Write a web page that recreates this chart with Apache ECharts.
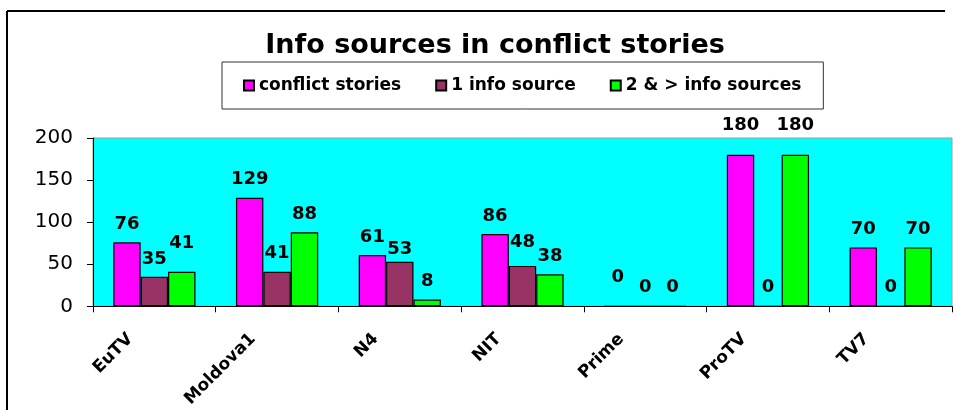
<!DOCTYPE html>
<html>
<head>
<meta charset="utf-8">
<script src="https://cdn.jsdelivr.net/npm/echarts@6/dist/echarts.min.js"></script>
<style>
html,body{margin:0;padding:0;background:#fff;}
#chart{width:956px;height:410px;}
</style>
</head>
<body>
<div id="chart"></div>
<script>
const titleText = 'Info sources in conflict stories';
const categories = ['EuTV', 'Moldova1', 'N4', 'NIT', 'Prime', 'ProTV', 'TV7'];
const seriesNames = ['conflict stories', '1 info source', '2 & > info sources'];
const conflictStories = [76, 129, 61, 86, 0, 180, 70];
const oneSource = [35, 41, 53, 48, 0, 0, 0];
const twoOrMoreSources = [41, 88, 8, 38, 0, 180, 70];
const yTicks = [0, 50, 100, 150, 200];

const colors = ['#FF00FF', '#993366', '#00FF00'];
const values = [conflictStories, oneSource, twoOrMoreSources];
// extra upward nudges of some value labels (px), as placed in the original
const labelLift = [
  [0, 0, 0, 0, 10, 12, 0],
  [0, 0, -6, 6, 0, 0, 0],
  [10, 0, 0, 0, 0, 12, 0]
];
const FONT = 'DejaVu Sans';

const chart = echarts.init(document.getElementById('chart'), null, {renderer: 'canvas'});
chart.setOption({
  animation: false,
  backgroundColor: '#ffffff',
  title: {
    text: titleText,
    left: 490,
    textAlign: 'center',
    top: 27,
    textStyle: {fontFamily: FONT, fontWeight: 'bold', fontSize: 27, color: '#000'}
  },
  legend: {
    data: seriesNames,
    top: 62,
    left: 222,
    width: 620,
    backgroundColor: '#fff',
    borderColor: '#333',
    borderWidth: 1,
    padding: [15, 22, 15, 21],
    itemGap: 34,
    itemWidth: 10,
    itemHeight: 10,
    icon: 'rect',
    textStyle: {fontFamily: FONT, fontWeight: 'bold', fontSize: 17, color: '#000'}
  },
  grid: {
    left: 93, right: 4, top: 138, bottom: 102,
    show: true, backgroundColor: '#00FFFF', borderColor: '#9a9a9a', borderWidth: 1
  },
  xAxis: {
    type: 'category',
    data: categories,
    axisLine: {show: true, lineStyle: {color: '#000', width: 1}},
    axisTick: {show: true, length: 6, lineStyle: {color: '#000'}},
    axisLabel: {
      rotate: 45, interval: 0, margin: 6, padding: [0, 34, 0, 0],
      fontFamily: FONT, fontWeight: 'bold', fontSize: 17, color: '#000'
    },
    splitLine: {show: false}
  },
  yAxis: {
    type: 'value',
    min: yTicks[0], max: yTicks[yTicks.length - 1], interval: 50,
    axisLine: {show: true, lineStyle: {color: '#000', width: 1}},
    axisTick: {show: true, length: 6, lineStyle: {color: '#000'}},
    axisLabel: {margin: 20, fontFamily: FONT, fontSize: 20, color: '#000'},
    splitLine: {show: false}
  },
  series: seriesNames.map((name, i) => ({
    name: name,
    type: 'bar',
    data: values[i].map((v, j) => ({
      value: v,
      label: {offset: [0, -labelLift[i][j]]}
    })),
    barGap: '0%',
    barCategoryGap: '33%',
    itemStyle: {color: colors[i], borderColor: '#000', borderWidth: 1.2},
    label: {
      show: true, position: 'top', distance: 9,
      fontFamily: FONT, fontWeight: 'bold', fontSize: 18, color: '#000'
    }
  })),
  graphic: [
    {type: 'line', shape: {x1: 7, y1: 11, x2: 945, y2: 11}, style: {stroke: '#000', lineWidth: 2}, z: 100},
    {type: 'line', shape: {x1: 7, y1: 11, x2: 7, y2: 410}, style: {stroke: '#000', lineWidth: 2}, z: 100}
  ]
});
</script>
</body>
</html>
